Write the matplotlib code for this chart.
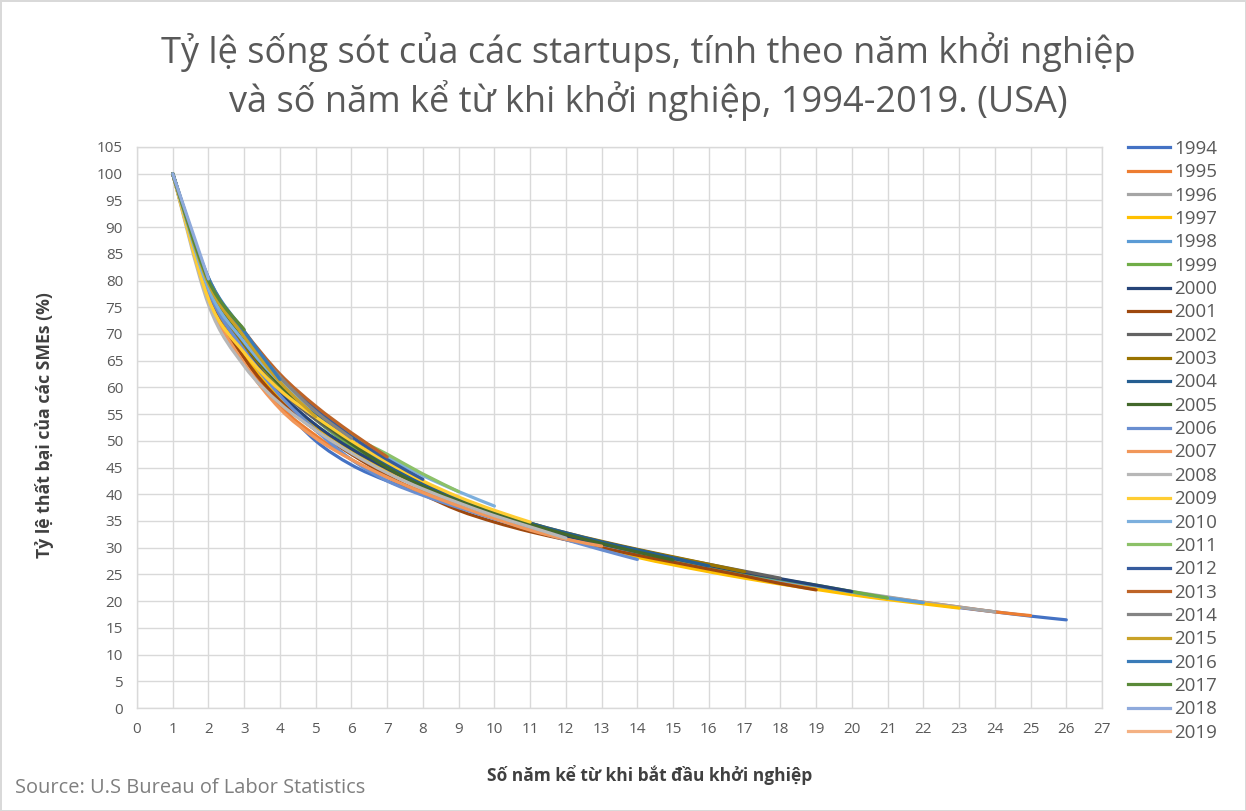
import matplotlib
matplotlib.use("Agg")
import matplotlib.pyplot as plt
from matplotlib.path import Path
from matplotlib.patches import PathPatch
from matplotlib.lines import Line2D

plt.rcParams['font.family'] = ['Open Sans', 'DejaVu Sans']

# cohort (start year) and survival % by years since start (x = 1, 2, ...)
years = list(range(1994, 2020))
s1994 = [100, 77.5, 66.0, 57.0, 50.0, 45.5, 42.5, 40.2, 38.0, 35.8, 33.8, 32.0, 30.3, 28.8, 27.4, 26.1, 24.9, 23.7, 22.6, 21.6, 20.6, 19.7, 18.8, 18.0, 17.2, 16.5]
s1995 = [100, 77.0, 65.5, 56.5, 51.0, 46.5, 43.2, 40.5, 38.2, 36.0, 34.0, 32.2, 30.5, 28.9, 27.5, 26.2, 25.0, 23.8, 22.7, 21.6, 20.7, 19.8, 18.9, 18.0, 17.3]
s1996 = [100, 78.0, 66.5, 58.0, 52.0, 47.5, 44.0, 41.2, 38.7, 36.3, 34.2, 32.3, 30.6, 29.0, 27.6, 26.3, 25.0, 23.9, 22.8, 21.8, 20.8, 19.8, 18.9, 18.0]
s1997 = [100, 77.5, 66.0, 58.0, 52.5, 48.0, 44.5, 41.5, 38.8, 36.3, 34.0, 31.9, 30.0, 28.2, 26.8, 25.5, 24.3, 23.2, 22.2, 21.2, 20.3, 19.5, 18.7]
s1998 = [100, 79.0, 68.0, 60.0, 54.0, 49.0, 45.0, 41.8, 39.0, 36.5, 34.3, 32.4, 30.7, 29.1, 27.7, 26.4, 25.2, 24.0, 22.9, 21.7, 20.6, 19.7]
s1999 = [100, 79.5, 68.5, 60.0, 54.0, 49.0, 45.2, 42.0, 39.3, 36.8, 34.6, 32.6, 30.9, 29.3, 27.9, 26.6, 25.3, 24.1, 23.0, 21.8, 20.6]
s2000 = [100, 78.5, 67.5, 59.0, 53.0, 48.5, 44.8, 41.5, 38.5, 35.8, 33.8, 32.2, 30.7, 29.3, 28.0, 26.7, 25.4, 24.2, 23.0, 21.8]
s2001 = [100, 77.0, 65.5, 57.5, 52.0, 47.5, 43.5, 40.0, 37.0, 34.8, 33.0, 31.5, 30.0, 28.6, 27.3, 26.0, 24.7, 23.3, 22.1]
s2002 = [100, 78.0, 67.0, 59.5, 54.0, 49.5, 45.5, 41.8, 38.8, 36.3, 34.3, 32.6, 31.0, 29.6, 28.2, 26.9, 25.6, 24.3]
s2003 = [100, 78.5, 68.0, 60.5, 55.0, 50.0, 45.8, 42.0, 39.0, 36.6, 34.6, 32.8, 31.2, 29.7, 28.3, 26.9, 25.5]
s2004 = [100, 79.0, 68.5, 61.0, 55.0, 50.0, 45.5, 41.8, 39.0, 36.7, 34.6, 32.8, 31.1, 29.6, 28.1, 26.6]
s2005 = [100, 79.0, 68.5, 60.5, 54.5, 49.5, 45.0, 41.5, 38.8, 36.5, 34.4, 32.5, 30.8, 29.2, 27.7]
s2006 = [100, 78.0, 67.0, 58.5, 52.0, 46.5, 42.5, 39.8, 37.5, 35.4, 33.4, 31.5, 29.6, 27.8]
s2007 = [100, 76.5, 64.5, 56.0, 50.5, 46.5, 43.2, 40.3, 37.8, 35.5, 33.3, 31.6, 30.3]
s2008 = [100, 75.5, 64.0, 57.0, 52.0, 47.7, 44.0, 41.0, 38.4, 36.0, 33.9, 31.8]
s2009 = [100, 76.5, 66.5, 59.5, 54.5, 50.0, 46.0, 42.5, 39.5, 37.0, 34.8]
s2010 = [100, 78.5, 68.5, 61.0, 55.5, 51.0, 47.0, 43.5, 40.5, 37.8]
s2011 = [100, 79.5, 70.0, 62.0, 56.0, 51.0, 47.5, 43.8, 40.5]
s2012 = [100, 80.0, 70.0, 62.0, 56.0, 50.8, 46.5, 42.8]
s2013 = [100, 80.0, 70.5, 62.5, 56.5, 51.5, 47.0]
s2014 = [100, 80.5, 70.0, 62.0, 55.5, 50.5]
s2015 = [100, 79.5, 69.5, 61.0, 54.5]
s2016 = [100, 80.5, 70.5, 61.5]
s2017 = [100, 80.0, 70.8]
s2018 = [100, 80.3]
s2019 = [100]
series = [s1994, s1995, s1996, s1997, s1998, s1999, s2000, s2001, s2002, s2003, s2004, s2005, s2006,
          s2007, s2008, s2009, s2010, s2011, s2012, s2013, s2014, s2015, s2016, s2017, s2018, s2019]

colors = ['#4472C4', '#ED7D31', '#A5A5A5', '#FFC000', '#5B9BD5', '#70AD47',
          '#264478', '#9E480E', '#636363', '#997300', '#255E91', '#43682B',
          '#698ED0', '#F1975A', '#B7B7B7', '#FFCD33', '#7CAFDD', '#8CC168',
          '#365B9D', '#BE6427', '#848484', '#C9A227', '#3A7BB8', '#5A8A39',
          '#8FAADC', '#F4B183']

TXT = '#595959'
GRID = '#D9D9D9'


def smooth_path(xs, ys):
    # Excel style smoothed line: cubic bezier through the points
    verts = [(xs[0], ys[0])]
    codes = [Path.MOVETO]
    n = len(xs)
    for i in range(n - 1):
        x0, y0 = (xs[i - 1], ys[i - 1]) if i > 0 else (xs[i], ys[i])
        x3, y3 = (xs[i + 2], ys[i + 2]) if i + 2 < n else (xs[i + 1], ys[i + 1])
        c1 = (xs[i] + (xs[i + 1] - x0) / 6, ys[i] + (ys[i + 1] - y0) / 6)
        c2 = (xs[i + 1] - (x3 - xs[i]) / 6, ys[i + 1] - (y3 - ys[i]) / 6)
        verts += [c1, c2, (xs[i + 1], ys[i + 1])]
        codes += [Path.CURVE4] * 3
    return Path(verts, codes)


fig = plt.figure(figsize=(12.46, 8.11), dpi=100)
fig.patch.set_edgecolor(GRID)
fig.patch.set_linewidth(2)
ax = fig.add_axes([137 / 1246, 1 - 708 / 811, (1102 - 137) / 1246, (708 - 147) / 811])

handles = []
for yr, vals, c in zip(years, series, colors):
    xs = list(range(1, len(vals) + 1))
    if len(vals) > 1:
        ax.add_patch(PathPatch(smooth_path(xs, vals), fill=False, edgecolor=c,
                               linewidth=2.3, capstyle='round', joinstyle='round', zorder=3))
    handles.append(Line2D([0], [0], color=c, linewidth=2.3))

ax.set_xlim(0, 27)
ax.set_ylim(0, 105)
ax.set_xticks(range(0, 28))
ax.set_yticks(range(0, 106, 5))
ax.grid(True, color=GRID, linewidth=1)
ax.set_axisbelow(True)
for sp in ax.spines.values():
    sp.set_color(GRID)
    sp.set_linewidth(1)
ax.tick_params(length=0, labelsize=11, labelcolor=TXT, pad=10)

fig.text(650 / 1246, 1 - 775 / 811, 'Số năm kể từ khi bắt đầu khởi nghiệp', fontsize=12.5,
         fontweight='bold', color='#404040', ha='center', va='center')
fig.text(45 / 1246, 1 - 425 / 811, 'Tỷ lệ thất bại của các SMEs (%)', fontsize=12.7,
         fontweight='bold', color='#404040', ha='center', va='center', rotation=90)

fig.text(648 / 1246, 1 - 52 / 811, 'Tỷ lệ sống sót của các startups, tính theo năm khởi nghiệp',
         ha='center', va='center', fontsize=26, color=TXT)
fig.text(648 / 1246, 1 - 101 / 811, 'và số năm kể từ khi khởi nghiệp, 1994-2019. (USA)',
         ha='center', va='center', fontsize=26, color=TXT)
fig.text(15 / 1246, 1 - 788 / 811, 'Source: U.S Bureau of Labor Statistics',
         ha='left', va='center', fontsize=14.4, color='#7F7F7F')

fig.legend(handles, [str(y) for y in years], loc='upper left',
           bbox_to_anchor=(1128 / 1246, 1 - 140 / 811), frameon=False,
           fontsize=13.5, labelcolor=TXT, handlelength=2.24, handletextpad=0.22,
           labelspacing=0.285, borderpad=0, borderaxespad=0)

fig.savefig('out.png', dpi=100, facecolor='white', edgecolor=GRID)
